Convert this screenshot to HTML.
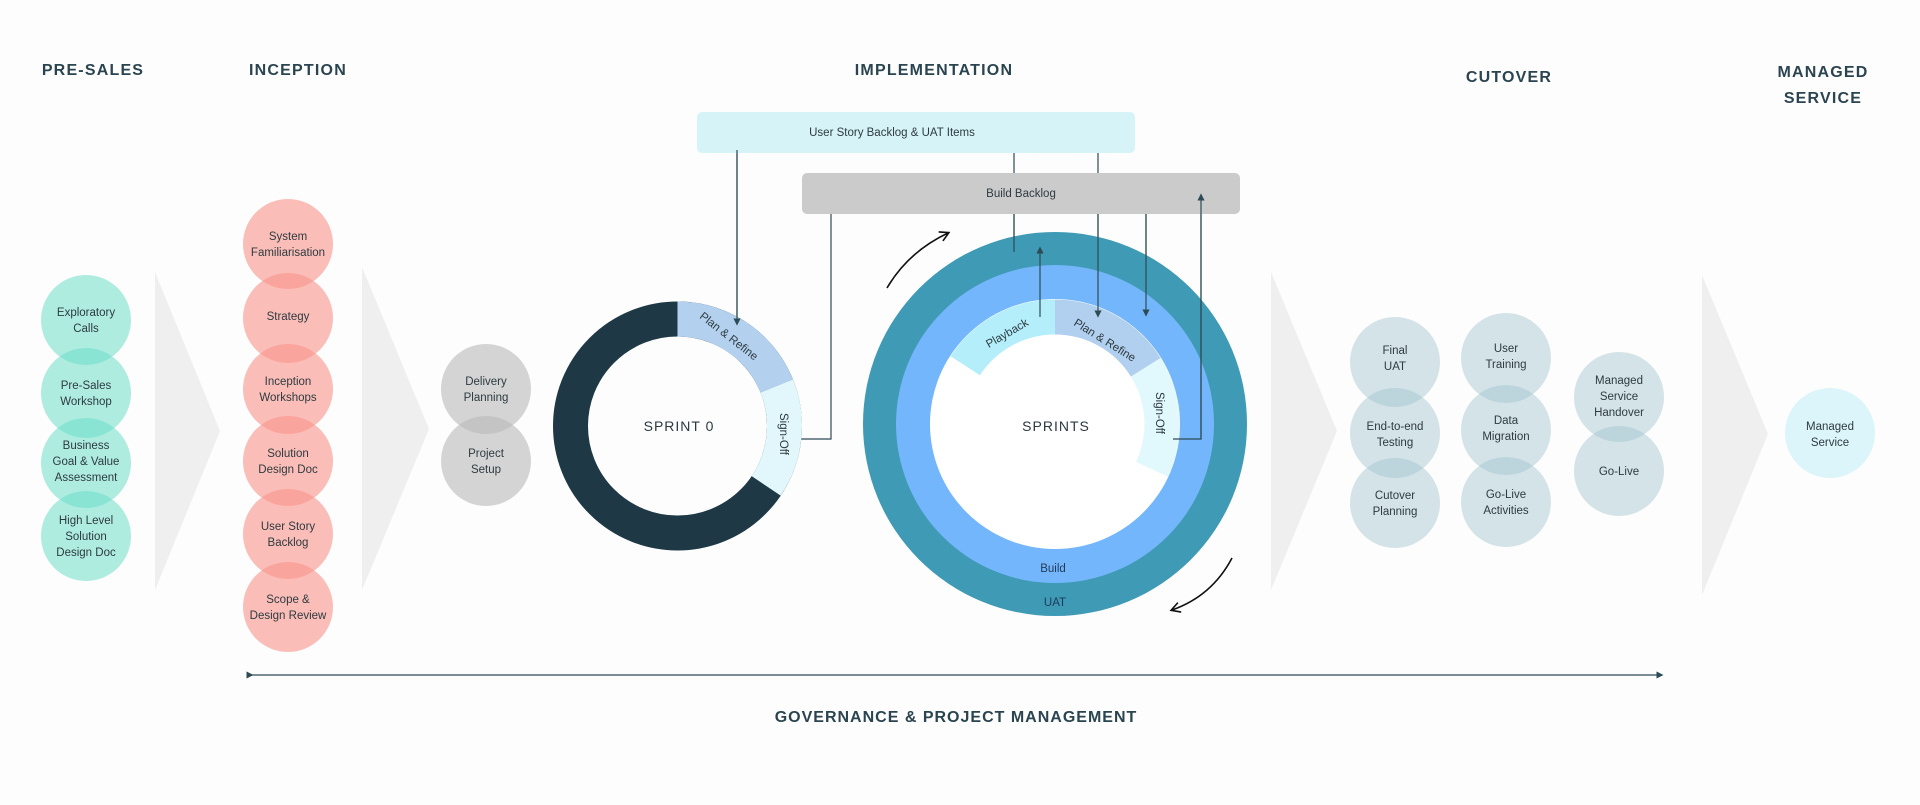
<!DOCTYPE html>
<html><head><meta charset="utf-8"><style>
html,body{margin:0;padding:0;background:#fdfdfd;}
svg{display:block;font-family:"Liberation Sans",sans-serif;}
.h{font-weight:bold;font-size:16px;letter-spacing:1.2px;fill:#2a4450;text-anchor:middle;}
.c{font-size:11.5px;fill:#2e3b40;text-anchor:middle;}
.b{font-size:11.5px;fill:#2e3b40;text-anchor:middle;}
.ln{stroke:#2e4a55;stroke-width:1.2;fill:none;}
</style></head><body>
<svg width="1920" height="805" viewBox="0 0 1920 805" xmlns="http://www.w3.org/2000/svg">
<defs>
<marker id="ah" markerWidth="6" markerHeight="6" refX="3" refY="3" orient="auto"><path d="M0,0 L6,3 L0,6 z" fill="#2e4a55"/></marker>
<marker id="ak" markerWidth="12" markerHeight="12" refX="9" refY="6" orient="auto" markerUnits="userSpaceOnUse"><path d="M1,1 L10,6 L1,11" fill="none" stroke="#111" stroke-width="1.6"/></marker>
</defs>
<rect width="1920" height="805" fill="#fdfdfd"/>

<!-- headings -->
<text class="h" x="93" y="75">PRE-SALES</text>
<text class="h" x="298" y="75">INCEPTION</text>
<text class="h" x="934" y="75">IMPLEMENTATION</text>
<text class="h" x="1509" y="82">CUTOVER</text>
<text class="h" x="1823" y="77">MANAGED</text>
<text class="h" x="1823" y="103">SERVICE</text>

<!-- chevrons -->
<polygon points="155,272 220,431 155,590" fill="#efefef"/>
<polygon points="362,267 429,429 362,590" fill="#efefef"/>
<polygon points="1271,272 1337,431 1271,590" fill="#efefef"/>
<polygon points="1702,275 1768,434 1702,595" fill="#efefef"/>

<!-- teal -->
<g fill="rgb(110,222,200)" fill-opacity="0.55">
<circle cx="86" cy="320" r="45"/><circle cx="86" cy="393" r="45"/><circle cx="86" cy="463" r="45"/><circle cx="86" cy="536" r="45"/>
</g>
<text class="c" x="86" y="316">Exploratory</text><text class="c" x="86" y="332">Calls</text>
<text class="c" x="86" y="389">Pre-Sales</text><text class="c" x="86" y="405">Workshop</text>
<text class="c" x="86" y="449">Business</text><text class="c" x="86" y="465">Goal &amp; Value</text><text class="c" x="86" y="481">Assessment</text>
<text class="c" x="86" y="524">High Level</text><text class="c" x="86" y="540">Solution</text><text class="c" x="86" y="556">Design Doc</text>

<!-- pink -->
<g fill="rgb(248,150,140)" fill-opacity="0.62">
<circle cx="288" cy="244" r="45"/><circle cx="288" cy="318" r="45"/><circle cx="288" cy="389" r="45"/><circle cx="288" cy="461" r="45"/><circle cx="288" cy="534" r="45"/><circle cx="288" cy="607" r="45"/>
</g>
<text class="c" x="288" y="240">System</text><text class="c" x="288" y="256">Familiarisation</text>
<text class="c" x="288" y="320">Strategy</text>
<text class="c" x="288" y="385">Inception</text><text class="c" x="288" y="401">Workshops</text>
<text class="c" x="288" y="457">Solution</text><text class="c" x="288" y="473">Design Doc</text>
<text class="c" x="288" y="530">User Story</text><text class="c" x="288" y="546">Backlog</text>
<text class="c" x="288" y="603">Scope &amp;</text><text class="c" x="288" y="619">Design Review</text>

<!-- gray -->
<g fill="rgb(185,185,185)" fill-opacity="0.6">
<circle cx="486" cy="389" r="45"/><circle cx="486" cy="461" r="45"/>
</g>
<text class="c" x="486" y="385">Delivery</text><text class="c" x="486" y="401">Planning</text>
<text class="c" x="486" y="457">Project</text><text class="c" x="486" y="473">Setup</text>

<!-- connectors (under boxes) -->
<line class="ln" x1="737" y1="150" x2="737" y2="322" marker-end="url(#ah)"/>
<polyline class="ln" points="799,439 831,439 831,197" marker-end="url(#ah)"/>
<line class="ln" x1="1014" y1="252" x2="1014" y2="134" marker-end="url(#ah)"/>
<line class="ln" x1="1098" y1="150" x2="1098" y2="314" marker-end="url(#ah)"/>
<line class="ln" x1="1146" y1="210" x2="1146" y2="313" marker-end="url(#ah)"/>

<!-- boxes -->
<rect x="697" y="112" width="438" height="41" rx="5" fill="#d6f3f7"/>
<text class="b" x="892" y="136">User Story Backlog &amp; UAT Items</text>
<rect x="802" y="173" width="438" height="41" rx="5" fill="#cbcbcb"/>
<text class="b" x="1021" y="197">Build Backlog</text>

<!-- Sprint 0 -->
<circle cx="677.5" cy="426" r="107" fill="none" stroke="#1e3945" stroke-width="35"/>
<circle cx="677.5" cy="426" r="107" fill="none" stroke="#b3d1ef" stroke-width="35" stroke-dasharray="127 1000" transform="rotate(-90 677.5 426)"/>
<circle cx="677.5" cy="426" r="107" fill="none" stroke="#e1f7fc" stroke-width="35" stroke-dasharray="104.6 1000" transform="rotate(-22 677.5 426)"/>
<text x="679" y="431" style="font-size:14px;letter-spacing:1px;fill:#2a3a40" text-anchor="middle">SPRINT 0</text>
<text class="c" x="729" y="340" transform="rotate(38 729 336)">Plan &amp; Refine</text>
<text class="c" x="784" y="438" transform="rotate(90 784 434)">Sign-Off</text>
<line class="ln" x1="737" y1="150" x2="737" y2="322" marker-end="url(#ah)"/>

<!-- Sprints -->
<circle cx="1055" cy="424" r="192" fill="#3e9ab5"/>
<circle cx="1055" cy="424" r="159" fill="#74b6fb"/>
<circle cx="1055" cy="424" r="125" fill="#ffffff"/>
<circle cx="1055" cy="424" r="107" fill="none" stroke="#b4eefb" stroke-width="35" stroke-dasharray="106.4 1000" transform="rotate(-147 1055 424)"/>
<circle cx="1055" cy="424" r="107" fill="none" stroke="#b1cfee" stroke-width="35" stroke-dasharray="108.3 1000" transform="rotate(-90 1055 424)"/>
<circle cx="1055" cy="424" r="107" fill="none" stroke="#e1f8fd" stroke-width="35" stroke-dasharray="106.4 1000" transform="rotate(-32 1055 424)"/>
<text x="1056" y="431" style="font-size:14px;letter-spacing:1px;fill:#2a3a40" text-anchor="middle">SPRINTS</text>
<text class="c" x="1007" y="337" transform="rotate(-30 1007 333)">Playback</text>
<text class="c" x="1105" y="344" transform="rotate(32 1105 340)">Plan &amp; Refine</text>
<text class="c" x="1160" y="417" transform="rotate(90 1160 413)">Sign-Off</text>
<text class="c" x="1053" y="572" style="fill:#1f3a5a">Build</text>
<text class="c" x="1055" y="606" style="fill:#1f3a5a">UAT</text>
<line class="ln" x1="1014" y1="252" x2="1014" y2="214"/>
<line class="ln" x1="1040" y1="317" x2="1040" y2="250" marker-end="url(#ah)"/>
<line class="ln" x1="1098" y1="214" x2="1098" y2="314" marker-end="url(#ah)"/>
<line class="ln" x1="1146" y1="214" x2="1146" y2="313" marker-end="url(#ah)"/>
<polyline class="ln" points="1173,439 1201,439 1201,197" marker-end="url(#ah)"/>
<line class="ln" x1="1201" y1="214" x2="1201" y2="439"/>

<!-- curved arrows -->
<path d="M887,288 Q908,252 948,233" fill="none" stroke="#111" stroke-width="1.6" marker-end="url(#ak)"/>
<path d="M1232,558 Q1212,596 1172,610" fill="none" stroke="#111" stroke-width="1.6" marker-end="url(#ak)"/>

<!-- cutover -->
<g fill="rgb(160,196,207)" fill-opacity="0.45">
<circle cx="1395" cy="362" r="45"/><circle cx="1395" cy="433" r="45"/><circle cx="1395" cy="503" r="45"/>
<circle cx="1506" cy="358" r="45"/><circle cx="1506" cy="430" r="45"/><circle cx="1506" cy="502" r="45"/>
<circle cx="1619" cy="397" r="45"/><circle cx="1619" cy="471" r="45"/>
</g>
<text class="c" x="1395" y="354">Final</text><text class="c" x="1395" y="370">UAT</text>
<text class="c" x="1395" y="430">End-to-end</text><text class="c" x="1395" y="446">Testing</text>
<text class="c" x="1395" y="499">Cutover</text><text class="c" x="1395" y="515">Planning</text>
<text class="c" x="1506" y="352">User</text><text class="c" x="1506" y="368">Training</text>
<text class="c" x="1506" y="424">Data</text><text class="c" x="1506" y="440">Migration</text>
<text class="c" x="1506" y="498">Go-Live</text><text class="c" x="1506" y="514">Activities</text>
<text class="c" x="1619" y="384">Managed</text><text class="c" x="1619" y="400">Service</text><text class="c" x="1619" y="416">Handover</text>
<text class="c" x="1619" y="475">Go-Live</text>

<circle cx="1830" cy="433" r="45" fill="#dcf5fa"/>
<text class="c" x="1830" y="430">Managed</text><text class="c" x="1830" y="446">Service</text>

<!-- governance -->
<line class="ln" x1="250" y1="675" x2="1660" y2="675" marker-end="url(#ah)" marker-start="url(#ah)"/>
<text class="h" x="956" y="722" style="font-size:16px;letter-spacing:1px">GOVERNANCE &amp; PROJECT MANAGEMENT</text>
</svg>
</body></html>
